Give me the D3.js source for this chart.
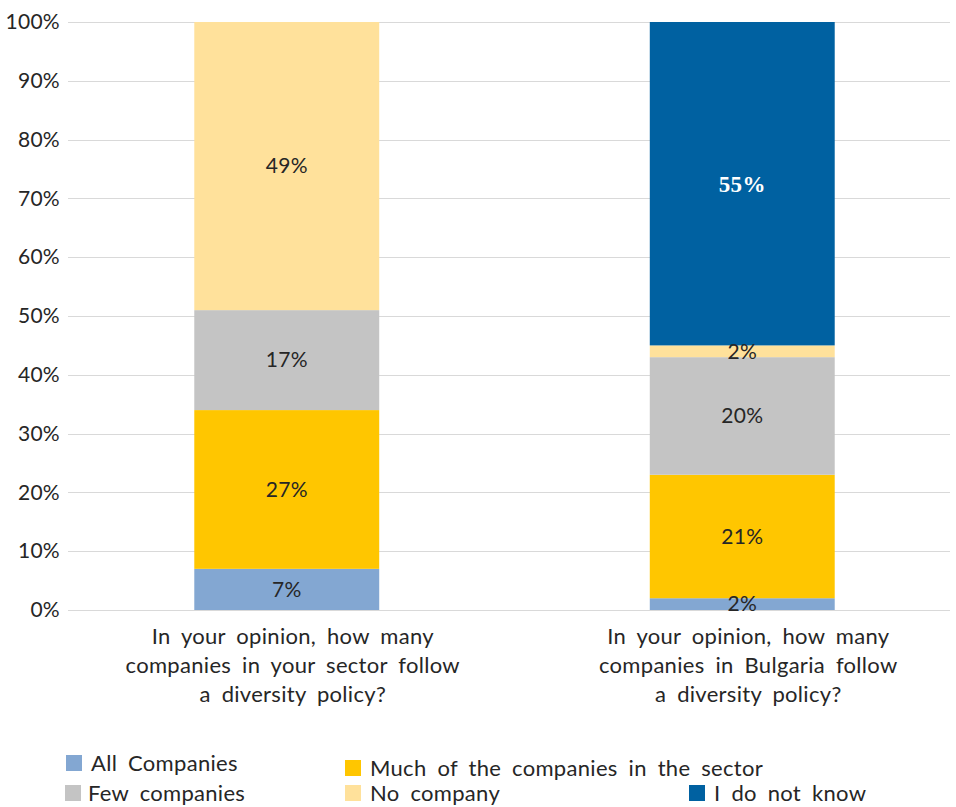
<!DOCTYPE html>
<html>
<head>
<meta charset="utf-8">
<script src="https://cdn.jsdelivr.net/npm/d3@7"></script>
<style>
  html, body { margin: 0; padding: 0; background: #fff; }
  svg { display: block; }
  text { font-family: Lato, "Open Sans", sans-serif; }
</style>
</head>
<body>
<svg id="chart" width="956" height="807"></svg>
<script>
// Survey questions (x categories), wrapped into lines
const questions = ["sector", "bulgaria"];
const questionLines = [
  ["In your opinion, how many", "companies in your sector follow", "a diversity policy?"],
  ["In your opinion, how many", "companies in Bulgaria follow", "a diversity policy?"]
];

// Answer series, bottom to top
const seriesNames = ["All Companies", "Much of the companies in the sector", "Few companies", "No company", "I do not know"];
const seriesColors = ["#83a7d2", "#ffc600", "#c4c4c4", "#ffe19b", "#0061a1"];

// Share of answers (%) per question
const allCompanies  = [7, 2];
const muchCompanies = [27, 21];
const fewCompanies  = [17, 20];
const noCompany     = [49, 2];
const doNotKnow     = [0, 55];

const yTicks = [0, 10, 20, 30, 40, 50, 60, 70, 80, 90, 100];

const textColor = "#262626";

const seriesValues = [allCompanies, muchCompanies, fewCompanies, noCompany, doNotKnow];
const rows = questions.map((q, i) => {
  const r = { question: q };
  seriesNames.forEach((s, k) => { r[s] = seriesValues[k][i]; });
  return r;
});
const stacked = d3.stack().keys(seriesNames)(rows);

const svg = d3.select("#chart");
const plotLeft = 68, plotRight = 950, plotTop = 22, plotBottom = 610;

const x = d3.scaleBand().domain(questions).range([59, 970]).paddingInner(0.594).paddingOuter(0.297);
const y = d3.scaleLinear().domain([0, 100]).range([plotBottom, plotTop]);

// Gridlines
svg.append("g").selectAll("line").data(yTicks).join("line")
  .attr("x1", plotLeft).attr("x2", plotRight)
  .attr("y1", d => Math.round(y(d)) + 0.5).attr("y2", d => Math.round(y(d)) + 0.5)
  .attr("stroke", "#d9d9d9").attr("stroke-width", 1);

// Y axis labels
const yAxis = svg.append("g").attr("transform", `translate(${plotLeft - 8},0)`)
  .call(d3.axisLeft(y).tickValues(yTicks).tickFormat(d => d + "%").tickSize(0).tickPadding(0));
yAxis.select(".domain").remove();
yAxis.selectAll("text")
  .style("font-family", "Lato, sans-serif").style("font-size", "21px")
  .style("letter-spacing", "0.3px").style("fill", textColor);

// Bars
const layer = svg.append("g").selectAll("g").data(stacked).join("g")
  .attr("fill", (d, i) => seriesColors[i]);
layer.selectAll("rect").data(d => d.map(p => ({ p, key: d.key }))).join("rect")
  .attr("x", (d, i) => x(questions[i]))
  .attr("width", x.bandwidth())
  .attr("y", d => y(d.p[1]))
  .attr("height", d => y(d.p[0]) - y(d.p[1]));

// Value labels
const labels = [];
stacked.forEach((s, k) => s.forEach((p, i) => {
  const v = p[1] - p[0];
  if (v > 0) labels.push({ k, i, v, mid: (p[0] + p[1]) / 2 });
}));
svg.append("g").selectAll("text").data(labels).join("text")
  .attr("x", d => x(questions[d.i]) + x.bandwidth() / 2)
  .attr("y", d => y(d.mid))
  .attr("dy", "0.35em")
  .attr("text-anchor", "middle")
  .style("font-size", d => d.k === 4 ? "23px" : "21px")
  .style("letter-spacing", "0.3px")
  .style("font-family", d => d.k === 4 ? "'Liberation Serif', serif" : "Lato, sans-serif")
  .style("font-weight", d => d.k === 4 ? "bold" : "normal")
  .style("fill", d => d.k === 4 ? "#ffffff" : textColor)
  .text(d => d.v + "%");

// Category labels
questions.forEach((q, i) => {
  const cx = x(q) + x.bandwidth() / 2 + 6;
  svg.append("text")
    .attr("x", cx).attr("y", 644)
    .attr("text-anchor", "middle")
    .style("font-size", "22px").style("word-spacing", "5px").style("letter-spacing", "0.3px")
    .style("fill", textColor)
    .selectAll("tspan").data(questionLines[i]).join("tspan")
    .attr("x", cx).attr("dy", (d, j) => j === 0 ? 0 : 29)
    .text(d => d);
});

// Legend
const legendPos = [
  { x: 66, y: 763 }, { x: 345, y: 768 }, { x: 65, y: 793 }, { x: 345, y: 793 }, { x: 689, y: 793 }
];
const legend = svg.append("g").selectAll("g").data(seriesNames).join("g")
  .attr("transform", (d, i) => `translate(${legendPos[i].x},${legendPos[i].y})`);
legend.append("rect").attr("x", 0).attr("y", -8).attr("width", 16).attr("height", 16)
  .attr("fill", (d, i) => seriesColors[i]);
legend.append("text").attr("x", (d, i) => i === 2 ? 23 : 25).attr("y", 0).attr("dy", "0.35em")
  .style("font-size", "22px").style("word-spacing", "5px").style("letter-spacing", "0.3px")
  .style("fill", textColor)
  .text(d => d);
</script>
</body>
</html>
